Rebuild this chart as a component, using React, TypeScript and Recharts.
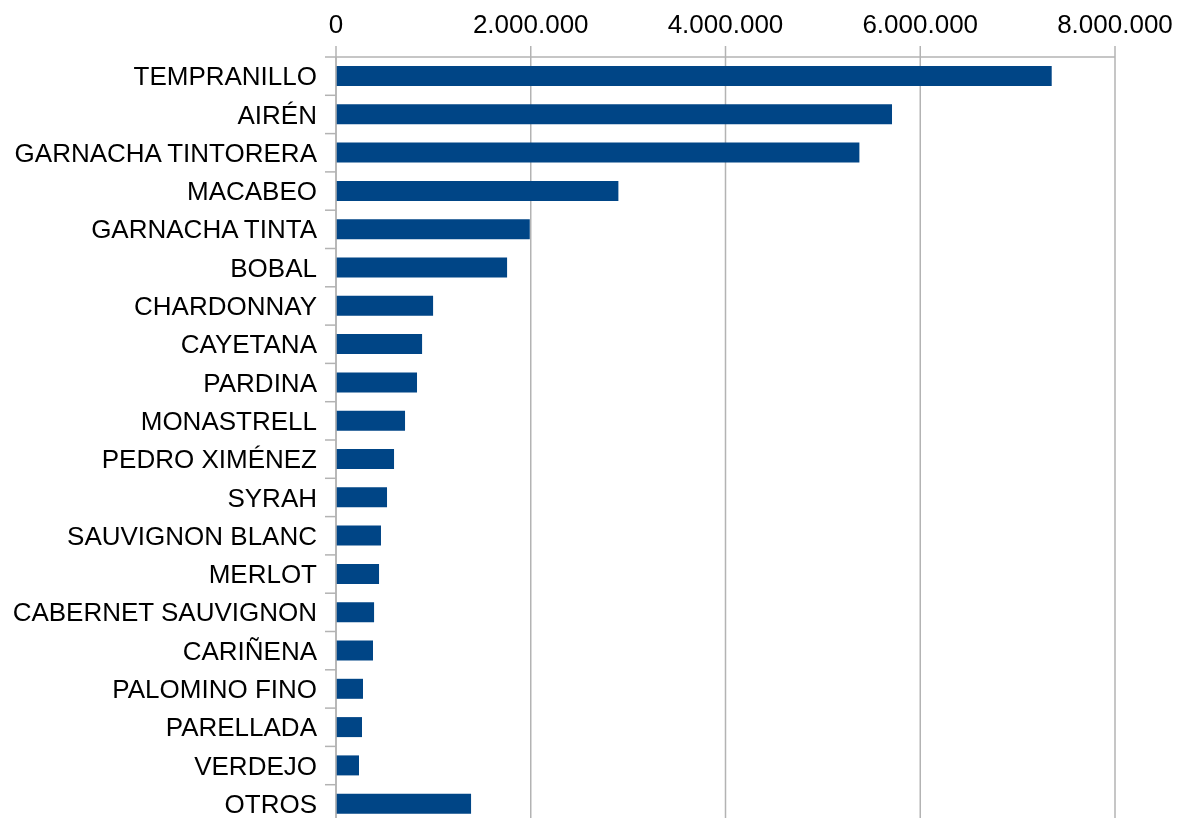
import React from "react";
import { BarChart, Bar, XAxis, YAxis, CartesianGrid } from "recharts";

const categories = [
  "TEMPRANILLO",
  "AIRÉN",
  "GARNACHA TINTORERA",
  "MACABEO",
  "GARNACHA TINTA",
  "BOBAL",
  "CHARDONNAY",
  "CAYETANA",
  "PARDINA",
  "MONASTRELL",
  "PEDRO XIMÉNEZ",
  "SYRAH",
  "SAUVIGNON BLANC",
  "MERLOT",
  "CABERNET SAUVIGNON",
  "CARIÑENA",
  "PALOMINO FINO",
  "PARELLADA",
  "VERDEJO",
  "OTROS",
];

const values = [
  7350000, 5710000, 5375000, 2900000, 1990000, 1757000, 997000, 884000, 832000, 709000,
  596000, 524000, 462000, 442000, 391000, 380000, 277000, 267000, 236000, 1387000,
];

const xTicks = [0, 2000000, 4000000, 6000000, 8000000];

const data = categories.map((name, i) => ({ name, value: values[i] }));

const GRID = "#b3b3b3";
const FONT = "'Liberation Sans', Arial, sans-serif";
const PLOT_H = 766;
const ROW_H = PLOT_H / categories.length;

const fmt = (v: number) => String(v).replace(/\B(?=(\d{3})+(?!\d))/g, ".");

function CategoryTick(props: any) {
  const { x, y, payload, index } = props;
  const last = index === categories.length - 1;
  return (
    <g>
      <line x1={x - 11} x2={x} y1={y - ROW_H / 2} y2={y - ROW_H / 2} stroke={GRID} strokeWidth={1.5} />
      {last && (
        <line x1={x - 11} x2={x} y1={y + ROW_H / 2} y2={y + ROW_H / 2} stroke={GRID} strokeWidth={1.5} />
      )}
      <text x={x - 19} y={y} dy="0.35em" textAnchor="end" fill="#000" fontSize={26} fontFamily={FONT}>
        {payload.value}
      </text>
    </g>
  );
}

export default function App() {
  // fixed so the chart running past the bottom edge does not add a scrollbar
  return (
    <div style={{ position: "fixed", top: 8, left: 8 }}>
      <BarChart
        width={1169}
        height={49 + PLOT_H}
        data={data}
        layout="vertical"
        margin={{ top: 0, right: 62, left: 0, bottom: 0 }}
        style={{ fontFamily: FONT }}
      >
        <CartesianGrid horizontal={false} stroke={GRID} strokeWidth={1.5} />
        <XAxis
          type="number"
          orientation="top"
          domain={[0, 8000000]}
          ticks={xTicks}
          interval={0}
          height={49}
          tickSize={11}
          tickMargin={13}
          tickFormatter={fmt}
          stroke={GRID}
          strokeWidth={1.5}
          tick={{ fill: "#000", fontSize: 26, fontFamily: FONT }}
        />
        <YAxis
          type="category"
          dataKey="name"
          width={328}
          interval={0}
          tickSize={0}
          tickMargin={0}
          tickLine={false}
          stroke={GRID}
          strokeWidth={1.5}
          tick={<CategoryTick />}
        />
        <Bar dataKey="value" fill="#004586" barSize={20} isAnimationActive={false} />
      </BarChart>
    </div>
  );
}
